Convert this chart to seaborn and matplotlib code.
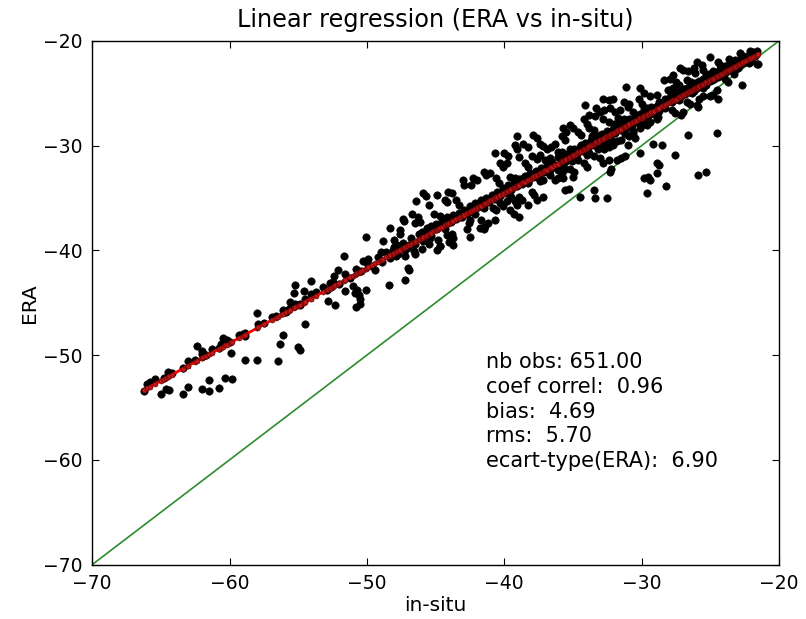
import numpy as np
import pandas as pd
import matplotlib
matplotlib.use("Agg")
import matplotlib.pyplot as plt
import seaborn as sns

# ---------------- data (in-situ, ERA) ----------------
seg1_points = [
    (-66.2, -53.4), (-65.0, -53.7), (-64.6, -53.2), (-64.4, -53.3), (-63.4, -53.7), (-63.0, -53.0),
    (-62.0, -53.2), (-61.5, -52.4), (-61.5, -53.4), (-60.8, -53.1), (-60.3, -52.2), (-59.8, -52.3),
    (-62.4, -49.1), (-62.0, -49.6), (-60.5, -48.4), (-59.9, -49.8), (-58.9, -50.5), (-58.0, -50.5),
    (-58.9, -48.2), (-58.9, -47.9), (-58.0, -46.0), (-56.5, -50.6), (-56.3, -48.9), (-56.1, -48.1),
    (-55.0, -49.2), (-54.9, -49.5), (-54.5, -47.0), (-55.2, -43.3), (-55.3, -44.1), (-54.6, -43.9),
    (-54.1, -42.9), (-55.6, -44.9), (-54.9, -45.2), (-52.8, -44.8),
    (-66.0, -52.8), (-65.4, -52.3), (-64.8, -52.2), (-64.5, -51.6), (-63.4, -51.2), (-63.0, -50.6),
    (-62.5, -50.5), (-62.0, -49.9), (-61.7, -50.0), (-61.3, -49.4), (-60.8, -49.3), (-60.2, -48.6),
    (-60.0, -48.7), (-59.0, -48.0), (-57.9, -47.0), (-56.6, -46.3), (-56.1, -45.7), (-55.7, -45.6),
    (-55.2, -45.1), (-54.9, -45.1), (-54.5, -44.6), (-65.8, -52.6), (-64.2, -51.7), (-61.9, -50.1),
    (-60.6, -48.9), (-59.3, -48.1), (-57.5, -46.9), (-56.9, -46.4), (-55.9, -45.9), (-54.1, -44.2),
    (-53.7, -44.0),
]

seg2_points = [
    (-51.7, -40.5), (-50.1, -38.7), (-50.3, -41.0), (-52.1, -41.9), (-52.4, -42.4), (-52.7, -43.1),
    (-52.6, -43.5), (-52.3, -45.2), (-51.6, -43.9), (-51.0, -43.4), (-50.9, -44.1), (-50.7, -43.8),
    (-50.6, -44.3), (-50.5, -44.6), (-50.8, -45.4), (-50.5, -45.1), (-50.1, -43.8), (-49.4, -41.9),
    (-48.4, -43.3), (-47.2, -42.8), (-47.0, -41.7), (-46.9, -41.9), (-46.5, -40.3), (-47.2, -40.5),
    (-47.2, -40.0), (-48.3, -37.9), (-47.6, -38.1), (-47.6, -38.4), (-48.8, -39.1), (-48.0, -39.0),
    (-47.4, -37.0), (-47.3, -37.2), (-46.7, -36.5), (-46.3, -36.8), (-46.5, -37.4), (-46.1, -37.3),
    (-46.4, -35.3), (-45.5, -35.7), (-45.9, -34.5), (-45.7, -34.8), (-44.9, -34.7), (-45.1, -36.5),
    (-44.7, -36.7), (-45.3, -37.7), (-44.8, -39.0), (-44.7, -39.6), (-45.7, -38.5), (-48.1, -40.0),
    (-53.2, -43.5), (-52.9, -43.8), (-52.5, -43.0), (-52.0, -43.2), (-51.6, -42.3), (-51.2, -42.6),
    (-50.8, -41.8), (-50.4, -42.0), (-50.0, -41.2), (-49.6, -41.5), (-49.2, -40.6), (-48.9, -41.1),
    (-48.6, -40.2), (-48.3, -40.7), (-48.0, -39.7), (-47.7, -40.3), (-47.4, -39.3), (-47.1, -39.8),
    (-46.8, -38.8), (-46.5, -39.4), (-46.2, -38.4), (-45.9, -39.1), (-45.6, -37.9), (-45.3, -38.6),
    (-45.0, -37.5), (-49.9, -40.8), (-49.0, -40.2), (-47.9, -40.5), (-46.9, -39.5), (-46.0, -38.2),
    (-45.4, -38.8), (-44.9, -37.7), (-47.8, -39.5), (-46.6, -40.1), (-46.0, -39.9), (-45.5, -39.4),
    (-44.9, -40.0),
]

seg3_points = [
    (-39.1, -29.1), (-37.9, -29.0), (-37.6, -29.3), (-40.7, -30.7), (-40.0, -30.7), (-39.7, -31.0),
    (-39.2, -29.9), (-39.1, -30.3), (-38.6, -29.8), (-38.3, -30.1), (-38.9, -31.1), (-37.4, -29.8),
    (-37.2, -30.0), (-36.9, -30.3), (-36.6, -30.1), (-36.3, -29.8), (-36.1, -30.6), (-38.0, -31.0),
    (-37.6, -31.3), (-37.4, -30.9), (-37.0, -31.4), (-36.7, -31.2), (-38.5, -31.7), (-38.3, -32.0),
    (-40.3, -31.7), (-40.1, -32.0), (-39.8, -31.7), (-41.5, -32.5), (-41.3, -32.8), (-41.0, -32.6),
    (-42.3, -33.1), (-42.0, -33.3), (-42.4, -33.8), (-43.0, -33.3), (-42.9, -33.8), (-44.1, -34.4),
    (-43.8, -34.5), (-44.3, -35.2), (-44.2, -35.4), (-43.5, -35.2), (-43.3, -35.7), (-40.6, -33.1),
    (-40.4, -33.6), (-39.6, -33.0), (-39.2, -33.1), (-39.0, -33.4), (-38.6, -33.1), (-38.3, -33.6),
    (-37.6, -33.0), (-37.4, -33.4), (-37.2, -33.3), (-36.7, -32.8), (-36.3, -33.3), (-36.1, -32.3),
    (-36.1, -33.1), (-38.0, -34.4), (-37.8, -34.7), (-37.2, -34.9), (-38.9, -34.9), (-38.7, -35.2),
    (-39.5, -34.9), (-39.2, -35.3), (-39.1, -35.7), (-40.3, -35.5), (-40.1, -35.8), (-39.8, -35.3),
    (-40.8, -36.0), (-40.6, -36.1), (-41.5, -36.0), (-41.8, -35.5), (-42.4, -36.1), (-42.1, -36.5),
    (-42.6, -37.4), (-42.5, -37.1), (-43.2, -36.8), (-41.7, -37.1), (-41.4, -37.7), (-41.2, -37.4),
    (-40.7, -37.1), (-38.9, -36.8), (-39.6, -36.1), (-39.3, -36.5), (-38.3, -35.7), (-37.6, -35.2),
    (-44.2, -36.8), (-44.0, -37.1), (-44.3, -38.0), (-44.2, -38.5), (-43.8, -38.4), (-44.0, -39.2),
    (-43.7, -39.5), (-42.7, -38.0), (-42.5, -38.7), (-41.8, -37.9), (-41.5, -38.0), (-42.9, -36.5),
    (-44.7, -39.6), (-43.7, -38.8),
    (-44.5, -37.2), (-44.3, -37.7), (-44.1, -36.9), (-43.9, -37.3), (-43.7, -36.6), (-43.5, -37.0),
    (-43.3, -36.4), (-43.1, -36.8), (-42.9, -36.1), (-42.7, -36.5), (-42.5, -35.8), (-42.3, -36.3),
    (-42.1, -35.5), (-41.9, -35.9), (-41.7, -35.2), (-41.5, -35.7), (-41.3, -35.0), (-41.1, -35.4),
    (-40.9, -34.7), (-40.7, -35.1), (-40.5, -34.4), (-40.3, -34.8), (-40.1, -34.0), (-39.9, -34.5),
    (-39.7, -33.8), (-39.5, -34.2), (-39.3, -33.5), (-39.1, -33.9), (-38.9, -33.2), (-38.7, -33.7),
    (-38.5, -32.9), (-38.3, -33.5), (-38.1, -32.6), (-37.9, -33.0), (-37.7, -32.4), (-37.5, -32.8),
    (-37.3, -32.1), (-37.1, -32.5), (-36.9, -31.8), (-36.7, -32.3), (-36.5, -31.6), (-36.3, -32.0),
]

seg4_points = [
    (-34.1, -26.1), (-32.8, -25.5), (-32.4, -25.6), (-32.1, -25.5), (-31.1, -24.4), (-30.1, -24.5),
    (-29.8, -25.0), (-28.4, -23.7), (-28.1, -24.7), (-29.4, -25.3), (-28.9, -25.2), (-31.3, -25.8),
    (-30.9, -26.0), (-31.0, -26.3), (-30.2, -25.5), (-30.0, -26.0), (-33.3, -26.4), (-33.0, -26.8),
    (-32.7, -26.6), (-32.3, -26.4), (-31.9, -26.8), (-31.6, -26.6), (-33.8, -27.1), (-33.4, -27.2),
    (-34.2, -27.5), (-34.0, -27.9), (-32.8, -27.5), (-32.4, -27.7), (-31.7, -27.4), (-31.3, -27.5),
    (-30.6, -26.8), (-30.4, -27.1), (-29.6, -26.4), (-29.3, -26.3), (-28.7, -25.8), (-28.3, -25.5),
    (-35.7, -28.3), (-35.5, -28.7), (-35.2, -28.0), (-35.0, -28.3), (-34.6, -28.7), (-34.4, -29.0),
    (-35.8, -29.1), (-35.6, -29.5), (-33.8, -28.3), (-33.5, -28.5), (-33.0, -29.0), (-32.2, -29.5),
    (-31.8, -29.6), (-31.5, -29.5), (-30.9, -29.1), (-30.5, -29.3), (-31.8, -28.3), (-31.1, -28.2),
    (-30.1, -28.3), (-29.6, -28.0), (-28.9, -27.5), (-35.2, -30.3), (-34.9, -30.6), (-34.4, -29.9),
    (-34.1, -30.3), (-33.3, -29.5), (-33.0, -29.9), (-32.7, -30.3), (-32.4, -30.1), (-32.1, -29.9),
    (-33.8, -30.7), (-33.5, -31.0), (-35.3, -31.2), (-35.1, -31.5), (-34.6, -31.4), (-35.7, -31.8),
    (-35.6, -32.2), (-35.2, -32.2), (-34.9, -32.5), (-34.2, -31.7), (-34.0, -32.0), (-35.8, -32.6),
    (-35.7, -33.1), (-35.0, -33.0), (-33.0, -31.2), (-32.8, -31.7), (-32.4, -31.4), (-31.8, -31.4),
    (-32.2, -32.2), (-31.5, -31.2), (-31.2, -31.0), (-30.1, -30.7), (-29.2, -29.8), (-28.5, -29.9),
    (-30.6, -28.8), (-31.0, -29.9), (-32.3, -32.5), (-28.9, -31.7), (-28.7, -31.8), (-29.5, -33.0),
    (-29.4, -33.3), (-29.8, -33.1), (-28.9, -32.6), (-29.6, -34.5), (-28.2, -33.9), (-35.6, -34.2),
    (-35.3, -34.1), (-34.5, -34.9), (-33.5, -34.2), (-33.4, -35.0), (-32.5, -35.0), (-25.9, -32.8),
    (-25.3, -32.5),
    (-36.1, -31.1), (-35.9, -31.6), (-35.7, -31.0), (-35.5, -31.5), (-35.3, -30.7), (-35.1, -31.0),
    (-34.9, -30.3), (-34.7, -30.8), (-34.5, -30.1), (-34.3, -30.5), (-34.1, -29.7), (-33.9, -30.2),
    (-33.7, -29.5), (-33.5, -29.9), (-33.3, -29.2), (-33.1, -29.7), (-32.9, -28.9), (-32.7, -29.4),
    (-32.5, -28.6), (-32.3, -29.1), (-32.1, -28.4), (-31.9, -28.8), (-31.7, -28.1), (-31.5, -28.5),
    (-31.3, -27.8), (-31.1, -28.3), (-30.9, -27.5), (-30.7, -28.0), (-30.5, -27.3), (-30.3, -27.7),
    (-30.1, -27.0), (-29.9, -27.5), (-29.7, -26.8), (-29.5, -27.2), (-29.3, -26.5), (-29.1, -27.0),
    (-28.9, -26.2), (-28.7, -26.7), (-28.5, -26.0), (-28.3, -26.4), (-28.1, -25.6), (-35.8, -30.6),
    (-34.8, -31.3), (-33.6, -29.1), (-32.6, -29.9), (-31.6, -27.7), (-30.6, -28.6), (-29.8, -26.5),
    (-28.8, -27.3), (-34.0, -30.9), (-32.0, -27.9), (-30.0, -28.0), (-33.2, -30.3), (-31.2, -28.9),
    (-29.4, -27.7),
]

seg5_points = [
    (-25.0, -21.5), (-26.0, -22.0), (-25.6, -22.3), (-24.4, -22.0), (-24.3, -22.3), (-22.8, -21.2),
    (-22.6, -21.4), (-22.1, -21.0), (-27.2, -22.6), (-27.0, -22.8), (-26.6, -22.9), (-26.2, -22.6),
    (-26.1, -23.1), (-25.5, -22.8), (-25.3, -23.3), (-25.0, -23.4), (-24.8, -22.9), (-23.8, -22.5),
    (-23.4, -22.3), (-27.9, -23.6), (-27.7, -23.3), (-27.5, -23.9), (-27.3, -24.2), (-27.9, -24.7),
    (-27.7, -24.5), (-26.7, -23.7), (-26.4, -23.9), (-26.0, -24.0), (-25.8, -24.2), (-27.0, -24.8),
    (-26.7, -24.7), (-27.6, -25.3), (-27.3, -25.6), (-26.2, -24.8), (-25.5, -24.5), (-25.3, -24.2),
    (-24.2, -23.3), (-23.9, -23.6), (-23.4, -22.8), (-23.3, -23.2), (-23.0, -22.6), (-22.7, -22.0),
    (-22.2, -22.1), (-22.1, -22.0), (-21.6, -22.2), (-23.7, -23.9), (-24.5, -24.7), (-24.4, -25.5),
    (-25.0, -25.3), (-24.8, -25.2), (-25.8, -25.5), (-25.5, -25.3), (-26.0, -26.1), (-25.9, -26.3),
    (-26.7, -25.8), (-26.5, -26.0), (-27.0, -26.8), (-27.1, -27.1), (-27.8, -26.6), (-27.6, -26.9),
    (-22.7, -24.2), (-21.5, -22.2), (-24.5, -28.8), (-26.6, -29.0), (-23.6, -21.7), (-23.2, -21.8),
    (-27.6, -30.9),
    (-27.9, -25.4), (-27.75, -25.8), (-27.6, -25.1), (-27.45, -25.5), (-27.3, -24.9), (-27.15, -25.3),
    (-27.0, -24.7), (-26.85, -25.1), (-26.7, -24.5), (-26.55, -24.9), (-26.4, -24.2), (-26.25, -24.7),
    (-26.1, -24.0), (-25.95, -24.5), (-25.8, -23.8), (-25.65, -24.2), (-25.5, -23.6), (-25.35, -24.0),
    (-25.2, -23.4), (-25.05, -23.8), (-24.9, -23.2), (-24.75, -23.6), (-24.6, -23.0), (-24.45, -23.4),
    (-24.3, -22.8), (-24.15, -23.2), (-24.0, -22.5), (-23.85, -23.0), (-23.7, -22.3), (-23.55, -22.8),
    (-23.4, -22.1), (-23.25, -22.5), (-23.1, -21.9), (-22.95, -22.3), (-22.8, -21.7), (-22.65, -22.1),
    (-22.5, -21.5), (-22.35, -21.9), (-22.2, -21.3), (-22.05, -21.7), (-21.9, -21.1), (-21.75, -21.4),
    (-21.6, -21.0), (-26.9, -24.6), (-25.9, -24.0), (-24.9, -23.7), (-23.9, -22.4), (-22.9, -22.4),
    (-26.3, -25.0), (-25.1, -23.2), (-24.2, -22.5), (-23.3, -22.9),
]

title_text = "Linear regression (ERA vs in-situ)"
x_label = "in-situ"
y_label = "ERA"
stats_lines = [
    "nb obs: 651.00",
    "coef correl:  0.96",
    "bias:  4.69",
    "rms:  5.70",
    "ecart-type(ERA):  6.90",
]
axis_ticks = [-70, -60, -50, -40, -30, -20]

# ---------------- build table ----------------
pts = seg1_points + seg2_points + seg3_points + seg4_points + seg5_points
df = pd.DataFrame(pts, columns=["insitu", "era"])
slope, intercept = np.polyfit(df["insitu"], df["era"], 1)
df["fit"] = slope * df["insitu"] + intercept
df = df.sort_values("insitu")
ident = pd.DataFrame({"x": [axis_ticks[0], axis_ticks[-1]], "y": [axis_ticks[0], axis_ticks[-1]]})

# ---------------- style ----------------
sns.set_style("white")
plt.rcParams["font.family"] = ["DejaVu Sans"]
plt.rcParams.update({
    "xtick.direction": "in", "ytick.direction": "in",
    "xtick.top": True, "ytick.right": True,
    "xtick.bottom": True, "ytick.left": True,
    "xtick.major.size": 5, "ytick.major.size": 5,
    "xtick.major.width": 0.8, "ytick.major.width": 0.8,
    "xtick.major.pad": 7, "ytick.major.pad": 7,
    "axes.edgecolor": "black", "axes.linewidth": 1.0,
    "text.color": "black", "axes.labelcolor": "black",
    "xtick.color": "black", "ytick.color": "black",
})

fig = plt.figure(figsize=(8.06, 6.19), dpi=100)
ax = fig.add_axes([0.1144, 0.0879, 0.852, 0.846])

sns.lineplot(data=ident, x="x", y="y", ax=ax, color="#2e8b2e", linewidth=1.2, zorder=1)
sns.scatterplot(data=df, x="insitu", y="era", ax=ax, color="black", edgecolor="black",
                s=28, linewidth=0.5, zorder=2)
sns.lineplot(data=df, x="insitu", y="fit", ax=ax, color="#ff0000", linewidth=2.0,
             estimator=None, sort=True, zorder=3)
sns.scatterplot(data=df, x="insitu", y="fit", ax=ax, color="#c01818", edgecolor="#5a0000",
                s=13, linewidth=0.4, zorder=4)

ax.set_xlim(axis_ticks[0], axis_ticks[-1])
ax.set_ylim(axis_ticks[0], axis_ticks[-1])
ax.set_xticks(axis_ticks)
ax.set_yticks(axis_ticks)
ax.tick_params(labelsize=13.5, colors="black")
ax.set_xlabel(x_label, fontsize=14.5, labelpad=2)
ax.set_ylabel(y_label, fontsize=14.5, labelpad=3)
ax.set_title(title_text, fontsize=17.3, pad=10)

ax.text(-41.35, -49.7, "\n".join(stats_lines), fontsize=15, va="top", ha="left",
        linespacing=1.3, color="black")

fig.savefig("out.png", dpi=100)
